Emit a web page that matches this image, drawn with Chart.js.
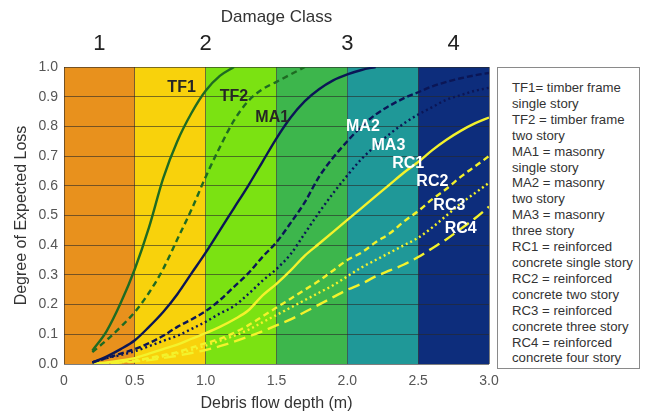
<!DOCTYPE html>
<html>
<head>
<meta charset="utf-8">
<title>Degree of Expected Loss</title>
<script src="https://cdn.jsdelivr.net/npm/chart.js@4.4.0/dist/chart.umd.min.js"></script>
<style>
  body { margin: 0; background: #fff; }
  #wrap { position: relative; width: 648px; height: 415px; }
  #legendBox {
    position: absolute; left: 497px; top: 67px; width: 143px; height: 302px;
    box-sizing: border-box; border: 1px solid #8a8a8a; background: #fff;
    padding: 12px 0 0 14px;
    font-family: "Liberation Sans", Arial, sans-serif; font-size: 13.2px; line-height: 15.9px; color: #333;
  }
  #legendBox div { white-space: nowrap; }
</style>
</head>
<body>
<div id="wrap">
  <canvas id="chart" width="648" height="415"></canvas>
  <div id="legendBox"></div>
</div>
<script>
// Valores
const depth = [0.2, 0.3, 0.4, 0.5, 0.6, 0.7, 0.8, 0.9, 1.0, 1.1, 1.2, 1.3, 1.4, 1.5, 1.6,
               1.7, 1.8, 1.9, 2.0, 2.1, 2.2, 2.3, 2.4, 2.5, 2.6, 2.7, 2.8, 2.9, 3.0];

const tf1 = [0.045, 0.11, 0.205, 0.32, 0.46, 0.625, 0.75, 0.845, 0.92, 0.97, 1.0];
const tf2 = [0.04, 0.08, 0.125, 0.175, 0.24, 0.32, 0.42, 0.52, 0.63, 0.73, 0.82, 0.885, 0.925, 0.95, 0.975, 1.0];
const ma1 = [0.005, 0.025, 0.05, 0.08, 0.125, 0.175, 0.235, 0.305, 0.375, 0.45, 0.525, 0.60, 0.68, 0.76, 0.83,
             0.885, 0.925, 0.955, 0.975, 0.99, 1.0];
const ma2 = [0.005, 0.02, 0.035, 0.05, 0.07, 0.095, 0.125, 0.15, 0.178, 0.215, 0.26, 0.305, 0.36, 0.41, 0.475,
             0.545, 0.63, 0.695, 0.75, 0.80, 0.84, 0.87, 0.895, 0.915, 0.935, 0.95, 0.962, 0.972, 0.98];
const ma3 = [0.005, 0.02, 0.03, 0.043, 0.06, 0.078, 0.095, 0.118, 0.142, 0.17, 0.195, 0.235, 0.28, 0.32, 0.37,
             0.44, 0.51, 0.575, 0.635, 0.69, 0.735, 0.775, 0.81, 0.84, 0.865, 0.89, 0.905, 0.92, 0.93];
const rc1 = [0, 0.005, 0.012, 0.02, 0.035, 0.05, 0.065, 0.085, 0.104, 0.125, 0.15, 0.18, 0.23, 0.27, 0.315,
             0.365, 0.405, 0.445, 0.485, 0.525, 0.565, 0.605, 0.645, 0.68, 0.72, 0.755, 0.785, 0.81, 0.83];
const rc2 = [0, 0.003, 0.008, 0.012, 0.02, 0.03, 0.04, 0.055, 0.07, 0.085, 0.105, 0.13, 0.16, 0.19, 0.22,
             0.25, 0.28, 0.315, 0.35, 0.375, 0.41, 0.44, 0.48, 0.515, 0.555, 0.59, 0.63, 0.665, 0.70];
const rc3 = [0, 0.003, 0.006, 0.01, 0.018, 0.026, 0.036, 0.048, 0.062, 0.078, 0.095, 0.115, 0.14, 0.165, 0.19,
             0.215, 0.24, 0.265, 0.295, 0.325, 0.35, 0.375, 0.40, 0.425, 0.46, 0.50, 0.54, 0.575, 0.61];
const rc4 = [0, 0.002, 0.005, 0.008, 0.013, 0.02, 0.028, 0.037, 0.047, 0.06, 0.075, 0.092, 0.11, 0.13, 0.15,
             0.175, 0.20, 0.225, 0.25, 0.27, 0.295, 0.315, 0.335, 0.36, 0.39, 0.42, 0.455, 0.49, 0.53];

// Faixas de profundidade (fundo colorido) e classes de dano
const bandEdges = [0, 0.5, 1.0, 1.5, 2.0, 2.5, 3.0];
const classCenters = [0.25, 1.0, 2.0, 2.75];
const classLabels = ['1', '2', '3', '4'];

// Rótulos das curvas (posição em unidades dos eixos)
const curveNames = ['TF1', 'TF2', 'MA1', 'MA2', 'MA3', 'RC1', 'RC2', 'RC3', 'RC4'];
const labelX = [0.83, 1.20, 1.47, 2.11, 2.29, 2.43, 2.60, 2.72, 2.80];
const labelY = [0.93, 0.90, 0.83, 0.80, 0.735, 0.675, 0.615, 0.535, 0.455];

const legendLines = [
    'TF1= timber frame', 'single story',
    'TF2 = timber frame', 'two story',
    'MA1 = masonry', 'single story',
    'MA2 = masonry', 'two story',
    'MA3 = masonry', 'three story',
    'RC1 = reinforced', 'concrete single story',
    'RC2 = reinforced', 'concrete two story',
    'RC3 = reinforced', 'concrete three story',
    'RC4 = reinforced', 'concrete four story'
];

const FONT = '"Liberation Sans", Arial, sans-serif';
const bandColors = ['#e8911d', '#f8d20c', '#7be212', '#3db64c', '#1f9898', '#0d2d7c'];
const GREEN = '#1e6b22';
const NAVY = '#0b1656';
const YELLOW = '#f3f22c';
const GRID = 'rgba(40,40,40,0.6)';
const labelColors = ['#262626', '#262626', '#262626', '#fff', '#fff', '#fff', '#fff', '#fff', '#fff'];

function pts(values) {
    return values.map((v, i) => ({ x: depth[i], y: v }));
}

function serie(label, values, color, dash) {
    return {
        label: label,
        data: pts(values),
        borderColor: color,
        borderWidth: 2.4,
        borderDash: dash,
        pointRadius: 0,
        fill: false,
        cubicInterpolationMode: 'monotone'
    };
}

// Fundo com as faixas coloridas
const bandsPlugin = {
    id: 'bands',
    beforeDraw(chart) {
        const { ctx, chartArea, scales } = chart;
        ctx.save();
        for (let i = 0; i < bandColors.length; i++) {
            const x0 = scales.x.getPixelForValue(bandEdges[i]);
            const x1 = scales.x.getPixelForValue(bandEdges[i + 1]);
            ctx.fillStyle = bandColors[i];
            ctx.fillRect(x0, chartArea.top, x1 - x0, chartArea.bottom - chartArea.top);
        }
        ctx.restore();
    }
};

// Nomes das curvas escritos sobre o gráfico
const namesPlugin = {
    id: 'names',
    afterDatasetsDraw(chart) {
        const { ctx, scales } = chart;
        ctx.save();
        ctx.font = 'bold 16px ' + FONT;
        ctx.textAlign = 'center';
        ctx.textBaseline = 'middle';
        curveNames.forEach((name, i) => {
            ctx.fillStyle = labelColors[i];
            ctx.fillText(name, scales.x.getPixelForValue(labelX[i]), scales.y.getPixelForValue(labelY[i]));
        });
        ctx.restore();
    }
};

function initChart() {
    const ctx = document.getElementById('chart').getContext('2d');
    new Chart(ctx, {
        type: 'line',
        data: {
            datasets: [
                serie('TF1', tf1, GREEN, []),
                serie('TF2', tf2, GREEN, [6, 4]),
                serie('MA1', ma1, NAVY, []),
                serie('MA2', ma2, NAVY, [6, 3]),
                serie('MA3', ma3, NAVY, [2, 3]),
                serie('RC1', rc1, YELLOW, []),
                serie('RC2', rc2, YELLOW, [6, 4]),
                serie('RC3', rc3, YELLOW, [2, 3]),
                serie('RC4', rc4, YELLOW, [12, 6])
            ]
        },
        options: {
            responsive: false,
            animation: false,
            layout: { padding: { left: 0, right: 159, top: 0, bottom: 0 } },
            plugins: {
                legend: { display: false },
                tooltip: { enabled: false }
            },
            scales: {
                x: {
                    type: 'linear',
                    position: 'bottom',
                    min: 0,
                    max: 3,
                    afterFit: s => { s.height = 51; },
                    grid: { color: GRID, drawTicks: false },
                    border: { display: false },
                    ticks: {
                        stepSize: 0.5,
                        padding: 9,
                        color: '#555',
                        font: { family: FONT, size: 14 },
                        maxRotation: 0,
                        callback: v => (v === 0 ? '0' : v.toFixed(1))
                    },
                    title: {
                        display: true,
                        text: 'Debris flow depth (m)',
                        color: '#333',
                        font: { family: FONT, size: 16 },
                        padding: { top: 0, bottom: 2 }
                    }
                },
                x2: {
                    type: 'linear',
                    position: 'top',
                    min: 0,
                    max: 3,
                    afterFit: s => { s.height = 67; },
                    afterBuildTicks: s => { s.ticks = classCenters.map(v => ({ value: v })); },
                    grid: { display: false, drawTicks: false },
                    border: { display: false },
                    ticks: {
                        autoSkip: false,
                        maxRotation: 0,
                        padding: 10,
                        color: '#222',
                        font: { family: FONT, size: 22 },
                        callback: (v, i) => classLabels[i]
                    },
                    title: {
                        display: true,
                        text: 'Damage Class',
                        color: '#333',
                        font: { family: FONT, size: 17 },
                        padding: { top: 7, bottom: 0 }
                    }
                },
                y: {
                    min: 0,
                    max: 1,
                    afterFit: s => { s.width = 64; },
                    grid: { color: GRID, drawTicks: false },
                    border: { display: false },
                    ticks: {
                        stepSize: 0.1,
                        padding: 6,
                        color: '#555',
                        font: { family: FONT, size: 14 },
                        callback: v => v.toFixed(1)
                    },
                    title: {
                        display: true,
                        text: 'Degree of Expected Loss',
                        color: '#333',
                        font: { family: FONT, size: 16 },
                        padding: { top: 12, bottom: 0 }
                    }
                }
            }
        },
        plugins: [bandsPlugin, namesPlugin]
    });
}

function initLegend() {
    const box = document.getElementById('legendBox');
    legendLines.forEach(t => {
        const d = document.createElement('div');
        d.textContent = t;
        box.appendChild(d);
    });
}

document.addEventListener('DOMContentLoaded', () => {
    initChart();
    initLegend();
});
</script>
</body>
</html>
